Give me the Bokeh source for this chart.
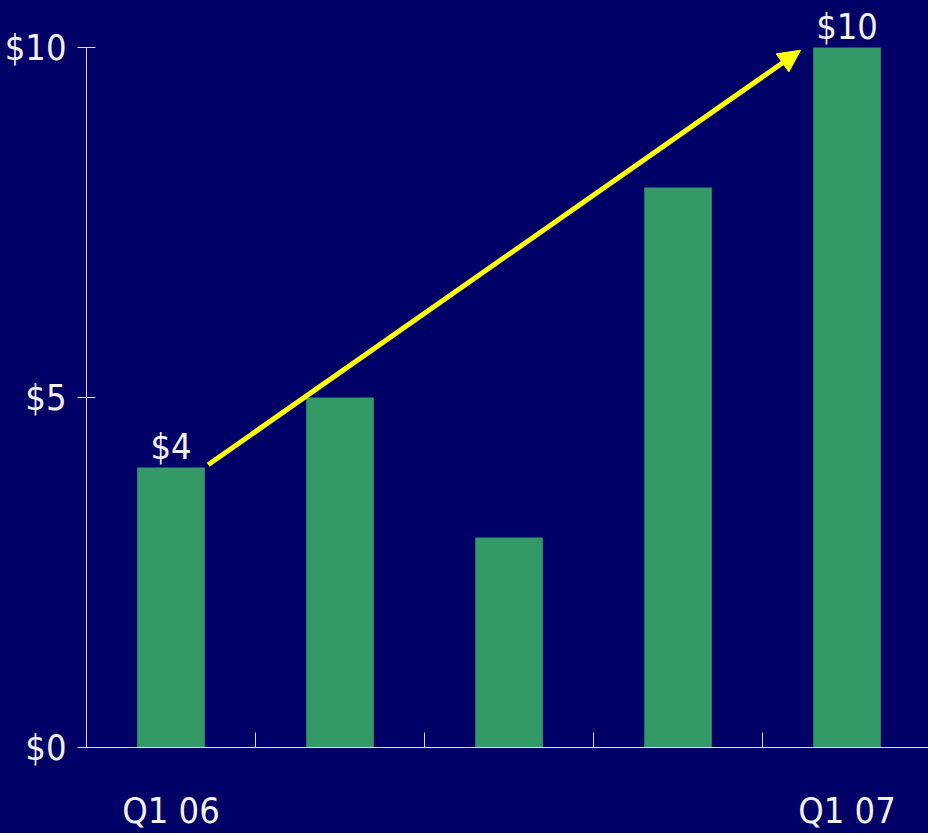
from bokeh.plotting import figure
from bokeh.models import (Range1d, FixedTicker, Arrow, NormalHead, ColumnDataSource, Label)
from bokeh.embed import file_html
from bokeh.resources import INLINE

# data
quarters = ["Q1 06", "Q2 06", "Q3 06", "Q4 06", "Q1 07"]
revenue = [4, 5, 3, 8, 10]
y_ticks = [0, 5, 10]
y_tick_labels = {0: "$0", 5: "$5", 10: "$10"}
shown_x_labels = {0: "Q1 06", 4: "Q1 07"}
bar_labels = {0: "$4", 4: "$10"}

BG = "#000066"
BAR = "#339966"
AXIS = "#dcdce6"
TXT = "#f2f2f2"
FONT = "DejaVu Sans Condensed"
FS = "36px"

n = len(quarters)
centers = [i + 0.5 for i in range(n)]

p = figure(width=928, height=833, output_backend="svg", toolbar_location=None,
           x_range=Range1d(0, 4.982), y_range=Range1d(0, 10.671),
           min_border_left=86, min_border_right=0, min_border_top=0, min_border_bottom=86)
p.background_fill_color = BG
p.border_fill_color = BG
p.outline_line_color = None
p.grid.visible = False

src = ColumnDataSource(dict(x=centers, top=revenue))
p.vbar(x="x", top="top", bottom=0, width=0.4, source=src, fill_color=BAR, line_color=None)

# boundary ticks on x axis (pointing up into the plot)
bx = list(range(n + 1))
p.segment(x0=bx, y0=[0] * len(bx), x1=bx, y1=[15 / 70] * len(bx), line_color=AXIS, line_width=1)

# y axis
ya = p.yaxis[0]
ya.ticker = FixedTicker(ticks=y_ticks, minor_ticks=[])
ya.major_label_overrides = {k: v for k, v in y_tick_labels.items()}
ya.bounds = (0, 10)
ya.axis_line_color = AXIS
ya.major_tick_line_color = AXIS
ya.major_tick_in = 9
ya.major_tick_out = 9
ya.major_label_standoff = 11
ya.major_label_text_color = TXT
ya.major_label_text_font = FONT
ya.major_label_text_font_size = FS

# x axis
xa = p.xaxis[0]
xa.ticker = FixedTicker(ticks=[centers[k] for k in shown_x_labels], minor_ticks=[])
xa.major_label_overrides = {centers[k]: v for k, v in shown_x_labels.items()}
xa.axis_line_color = AXIS
xa.major_tick_line_color = None
xa.major_tick_in = 0
xa.major_tick_out = 0
xa.major_label_standoff = 42
xa.major_label_text_color = TXT
xa.major_label_text_font = FONT
xa.major_label_text_font_size = FS

# value labels
for k, t in bar_labels.items():
    p.add_layout(Label(x=centers[k], y=revenue[k], text=t, text_align="center",
                       text_baseline="bottom", y_offset=0, text_color=TXT,
                       text_font=FONT, text_font_size=FS))

# growth arrow
p.add_layout(Arrow(x_start=centers[0] + 0.22, y_start=revenue[0] + 0.04,
                   x_end=centers[-1] - 0.275, y_end=revenue[-1] - 0.04,
                   line_color="#ffff00", line_width=5,
                   end=NormalHead(size=22, fill_color="#ffff00", line_color="#ffff00")))

html = file_html(p, INLINE)
html = html.replace("<head>", "<head><style>html,body{background:#000066;margin:0;}</style>", 1)
open("out.html", "w").write(html)
